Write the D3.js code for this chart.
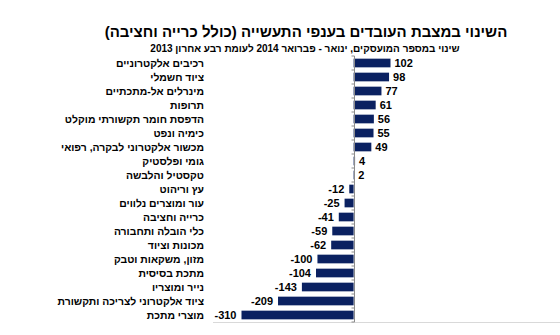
<!DOCTYPE html>
<html>
<head>
<meta charset="utf-8">
<script src="https://cdn.jsdelivr.net/npm/d3@7"></script>
<style>
  body { margin: 0; background: #fff; }
  svg { font-family: Arial, "Liberation Sans", "DejaVu Sans", sans-serif; }
</style>
</head>
<body>
<div id="chart"></div>
<script>
// industries, top to bottom
var industries = [
    "רכיבים אלקטרוניים", "ציוד חשמלי", "מינרלים אל-מתכתיים", "תרופות",
    "הדפסת חומר תקשורתי מוקלט", "כימיה ונפט", "מכשור אלקטרוני לבקרה, רפואי",
    "גומי ופלסטיק", "טקסטיל והלבשה", "עץ וריהוט", "עור ומוצרים נלווים",
    "כרייה וחציבה", "כלי הובלה ותחבורה", "מכונות וציוד", "מזון, משקאות וטבק",
    "מתכת בסיסית", "נייר ומוצריו", "ציוד אלקטרוני לצריכה ותקשורת", "מוצרי מתכת"
];
var changes = [102, 98, 77, 61, 56, 55, 49, 4, 2, -12, -25, -41, -59, -62, -100, -104, -143, -209, -310];

var titleText = "השינוי במצבת העובדים בענפי התעשייה (כולל כרייה וחציבה)";
var subtitleText = "שינוי במספר המועסקים, ינואר - פברואר 2014 לעומת רבע אחרון 2013";

var width = 560, height = 335;
var svg = d3.select("#chart").append("svg")
    .attr("width", width)
    .attr("height", height);

var data = industries.map(function(d, i) { return {name: d, value: changes[i]}; });

var x = d3.scaleLinear()
    .domain(d3.extent(changes))
    .range([241.5, 390.5]);
var y = d3.scaleBand()
    .domain(industries)
    .range([56, 322])
    .paddingInner(0.38)
    .paddingOuter(0.19);

// titles
svg.append("text")
    .attr("x", 306).attr("y", 37)
    .attr("text-anchor", "middle")
    .attr("direction", "rtl")
    .style("font-size", "15px").style("font-weight", "bold")
    .text(titleText);
svg.append("text")
    .attr("x", 305).attr("y", 52)
    .attr("text-anchor", "middle")
    .attr("direction", "rtl")
    .style("font-size", "10px").style("font-weight", "bold")
    .text(subtitleText);

// bottom border line
svg.append("line")
    .attr("x1", 213).attr("x2", 560)
    .attr("y1", 322.5).attr("y2", 322.5)
    .style("stroke", "#d9d9d9");

// bars
svg.selectAll(".bar").data(data).enter()
    .append("rect")
    .attr("class", "bar")
    .attr("x", function(d) { return x(Math.min(0, d.value)); })
    .attr("y", function(d) { return y(d.name); })
    .attr("width", function(d) { return Math.abs(x(d.value) - x(0)); })
    .attr("height", y.bandwidth())
    .style("fill", "#0b2161");

// zero axis with ticks at band edges
var zero = Math.round(x(0)) + 0.5;
svg.append("line")
    .attr("x1", zero).attr("x2", zero)
    .attr("y1", 56).attr("y2", 322)
    .style("stroke", "#8c8c8c");
var step = y.step();
svg.selectAll(".tick").data(d3.range(industries.length + 1)).enter()
    .append("line")
    .attr("class", "tick")
    .attr("x1", zero - 3).attr("x2", zero)
    .attr("y1", function(i) { return 56 + i * step; })
    .attr("y2", function(i) { return 56 + i * step; })
    .style("stroke", "#8c8c8c");

// value labels
svg.selectAll(".value").data(data).enter()
    .append("text")
    .attr("class", "value")
    .attr("x", function(d) { return d.value >= 0 ? x(d.value) + 4 : x(d.value) - 5; })
    .attr("y", function(d) { return y(d.name) + y.bandwidth() / 2; })
    .attr("dy", "0.36em")
    .attr("text-anchor", function(d) { return d.value >= 0 ? "start" : "end"; })
    .style("font-size", "11px").style("font-weight", "bold")
    .text(function(d) { return d.value; });

// category labels
svg.selectAll(".label").data(data).enter()
    .append("text")
    .attr("class", "label")
    .attr("x", 204)
    .attr("y", function(d) { return y(d.name) + y.bandwidth() / 2; })
    .attr("dy", "0.36em")
    .attr("direction", "rtl")
    .attr("text-anchor", "start")
    .style("font-size", "10.4px").style("font-weight", "bold")
    .text(function(d) { return d.name; });
</script>
</body>
</html>
